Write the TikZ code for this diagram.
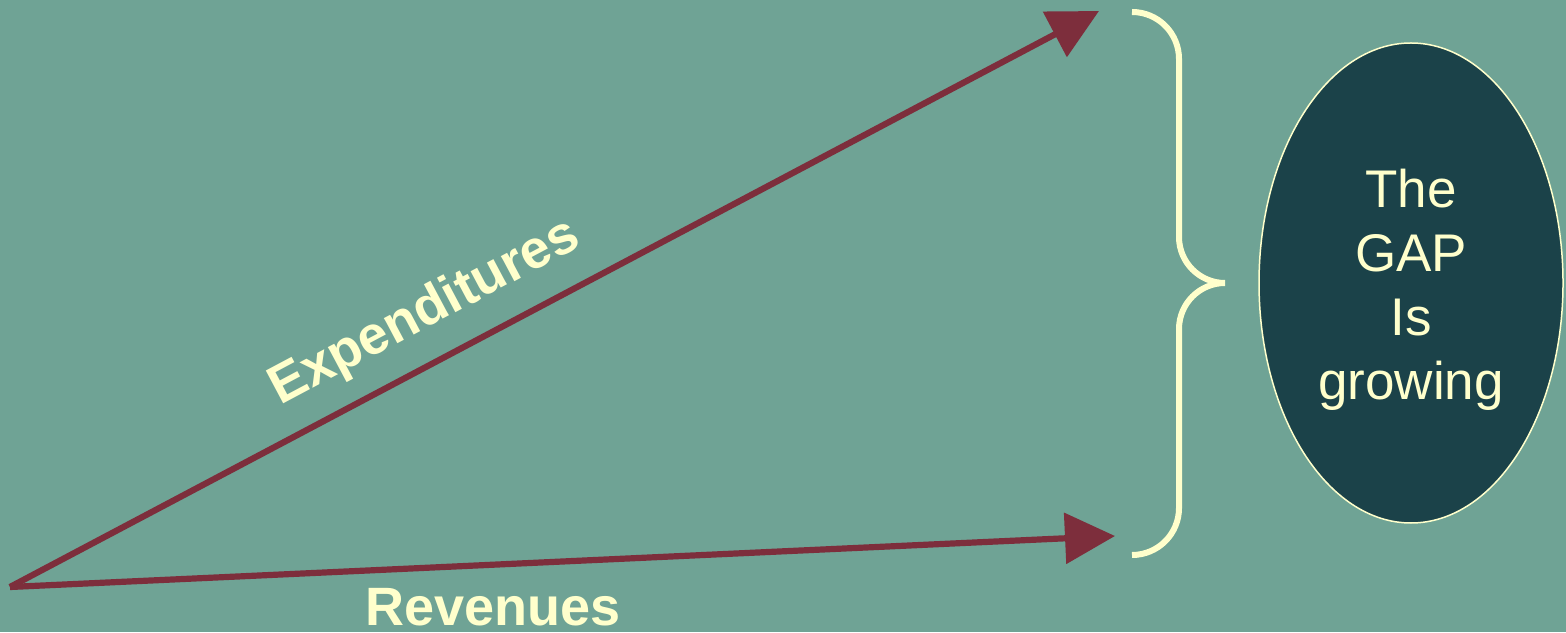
\documentclass[tikz,border=0pt]{standalone}
\usepackage{fontspec}
\setmainfont{Liberation Sans}
\usetikzlibrary{arrows.meta,shapes.geometric,positioning}
\definecolor{bgteal}{RGB}{111,163,149}
\definecolor{wine}{RGB}{125,46,60}
\definecolor{cream}{RGB}{255,255,204}
\definecolor{deepteal}{RGB}{27,66,73}

\begin{document}
\begin{tikzpicture}[x=0.5pt,y=0.5pt,>={Triangle[length=25pt,width=25pt]},
                    line width=3.1pt]
  \tikzstyle{flow}=[->,draw=wine,fill=wine]
  \tikzstyle{lbl}=[text=cream,font=\fontsize{27pt}{30pt}\selectfont\bfseries]

  \fill[bgteal] (0,0) rectangle (1566,632);
  \useasboundingbox (0,0) rectangle (1566,632);

  \coordinate (O) at (10,45);
  \coordinate (E) at (1099,621);
  \coordinate (R) at (1115,96);

  \path (O) edge[flow] (E);
  \path (O) edge[flow] (R);

  \node[lbl,rotate=28] (exp) at (425,319) {Expenditures};
  \node[lbl]           (rev) at (493,25)  {Revenues};

  \draw[cream,line width=3pt] (1132,620) arc[start angle=90,end angle=0,radius=23.5pt]
    -- (1179,395) arc[start angle=180,end angle=270,radius=23pt]
    arc[start angle=90,end angle=180,radius=23pt]
    -- (1179,124) arc[start angle=0,end angle=-90,radius=23.5pt];

  \node[ellipse,draw=cream,line width=0.75pt,fill=deepteal,
        minimum width=152pt,minimum height=240pt] (gap) at (1411,349) {};
  \node[text=cream,align=center,font=\fontsize{26.5pt}{32pt}\selectfont,
        below=3.5pt of gap.center,anchor=center] (gaptext)
        {The\\GAP\\Is\\growing};
\end{tikzpicture}
\end{document}
